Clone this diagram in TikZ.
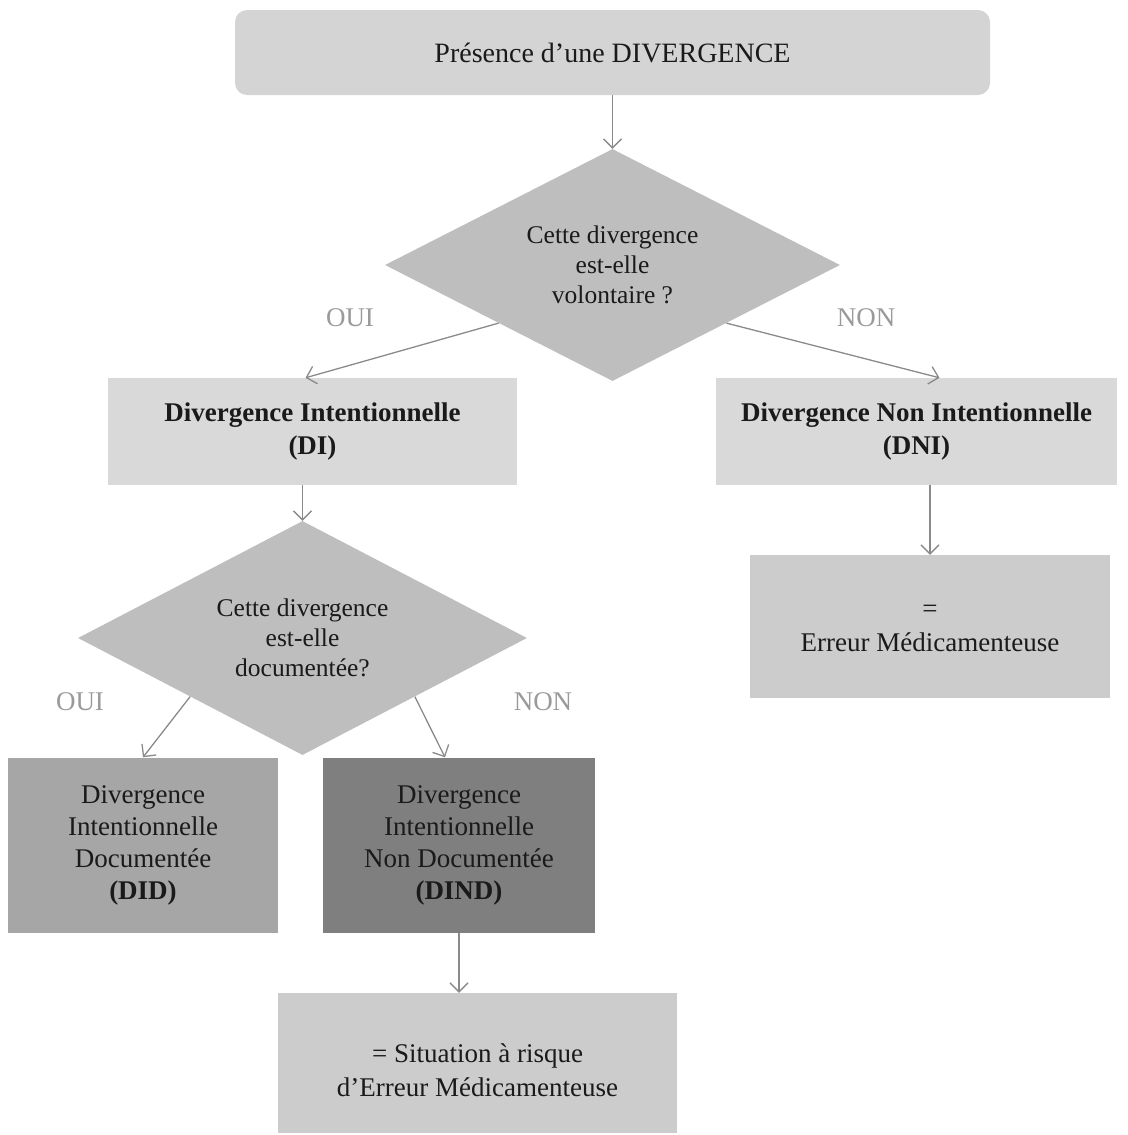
\documentclass[tikz,border=0pt]{standalone}
\usepackage{fontspec}
\setmainfont{Liberation Serif}
\usetikzlibrary{shapes.geometric,arrows.meta}
\definecolor{topfill}{HTML}{D4D4D4}
\definecolor{lightfill}{HTML}{D9D9D9}
\definecolor{diafill}{HTML}{BEBEBE}
\definecolor{didfill}{HTML}{A6A6A6}
\definecolor{dindfill}{HTML}{7F7F7F}
\definecolor{resfill}{HTML}{CCCCCC}
\definecolor{arrowgray}{HTML}{8A8A8A}
\definecolor{labelgray}{HTML}{9A9A9A}
\definecolor{txt}{HTML}{1A1A1A}
\begin{document}
\begin{tikzpicture}[x=1pt,y=-1pt,
  box/.style={draw=none, inner sep=0pt, align=center, text=txt,
    font=\fontsize{27}{33}\selectfont},
  txtonly/.style={inner sep=0pt, align=center, text=txt,
    font=\fontsize{27}{33.5}\selectfont},
  dia/.style={diamond, aspect=2, draw=none, fill=diafill, inner sep=0pt, align=center, text=txt,
    font=\fontsize{25.5}{30}\selectfont},
  lab/.style={text=labelgray, font=\fontsize{27}{33}\selectfont, inner sep=0pt},
  arr/.style={draw=arrowgray, line width=1.3pt, -{Straight Barb[length=9pt,width=18pt,line width=1.3pt]}}
]
\useasboundingbox (0,0) rectangle (1127,1135);

\node[box, fill=topfill, rounded corners=12pt, minimum width=755, minimum height=85,
  font=\fontsize{28}{33}\selectfont] (top) at (612.5,52.5) {Présence d’une DIVERGENCE};

\node[dia, minimum width=455, minimum height=232] (d1) at (612.5,265)
  {Cette divergence\\est-elle\\volontaire ?};

\node[box, fill=lightfill, minimum width=409, minimum height=107] (di) at (312.5,431.5)
  {\textbf{Divergence Intentionnelle}\\\textbf{(DI)}};
\node[box, fill=lightfill, minimum width=401, minimum height=107] (dni) at (916.5,431.5)
  {\textbf{Divergence Non Intentionnelle}\\\textbf{(DNI)}};

\node[dia, minimum width=449, minimum height=234] (d2) at (302.5,638)
  {Cette divergence\\est-elle\\documentée?};

\node[box, fill=didfill, minimum width=270, minimum height=175,
  font=\fontsize{27}{32}\selectfont] (did) at (143,845)
  {Divergence\\Intentionnelle\\Documentée\\\textbf{(DID)}};
\node[box, fill=dindfill, minimum width=272, minimum height=175,
  font=\fontsize{27}{32}\selectfont] (dind) at (459,845)
  {Divergence\\Intentionnelle\\Non Documentée\\\textbf{(DIND)}};

\node[box, fill=resfill, minimum width=399, minimum height=140] (sit) at (477.5,1063) {};
\node[txtonly] (sittxt) at ([yshift=-7pt]sit.center)
  {= Situation à risque\\d’Erreur Médicamenteuse};

\node[box, fill=resfill, minimum width=360, minimum height=143] (em) at (930,626.5) {};
\node[txtonly] (emtxt) at ([yshift=-2pt]em.center) {=\\Erreur Médicamenteuse};

\node[lab] (oui1) at (350,318) {OUI};
\node[lab] (non1) at (866,318) {NON};
\node[lab] (oui2) at (80,702) {OUI};
\node[lab] (non2) at (543,702) {NON};

\draw[arr] (top.south) -- (d1.north);
\draw[arr] (d1.south west) -- ([xshift=-7pt]di.north);
\draw[arr] (d1.south east) -- ([xshift=23pt]dni.north);
\draw[arr] (d2.north |- di.south) -- (d2.north);
\draw[arr] (em.north |- dni.south) -- (em.north);
\draw[arr] (d2.south west) -- (did.north);
\draw[arr] (d2.south east) -- ([xshift=-14pt]dind.north);
\draw[arr] (dind.south) -- (dind.south |- sit.north);
\end{tikzpicture}
\end{document}
